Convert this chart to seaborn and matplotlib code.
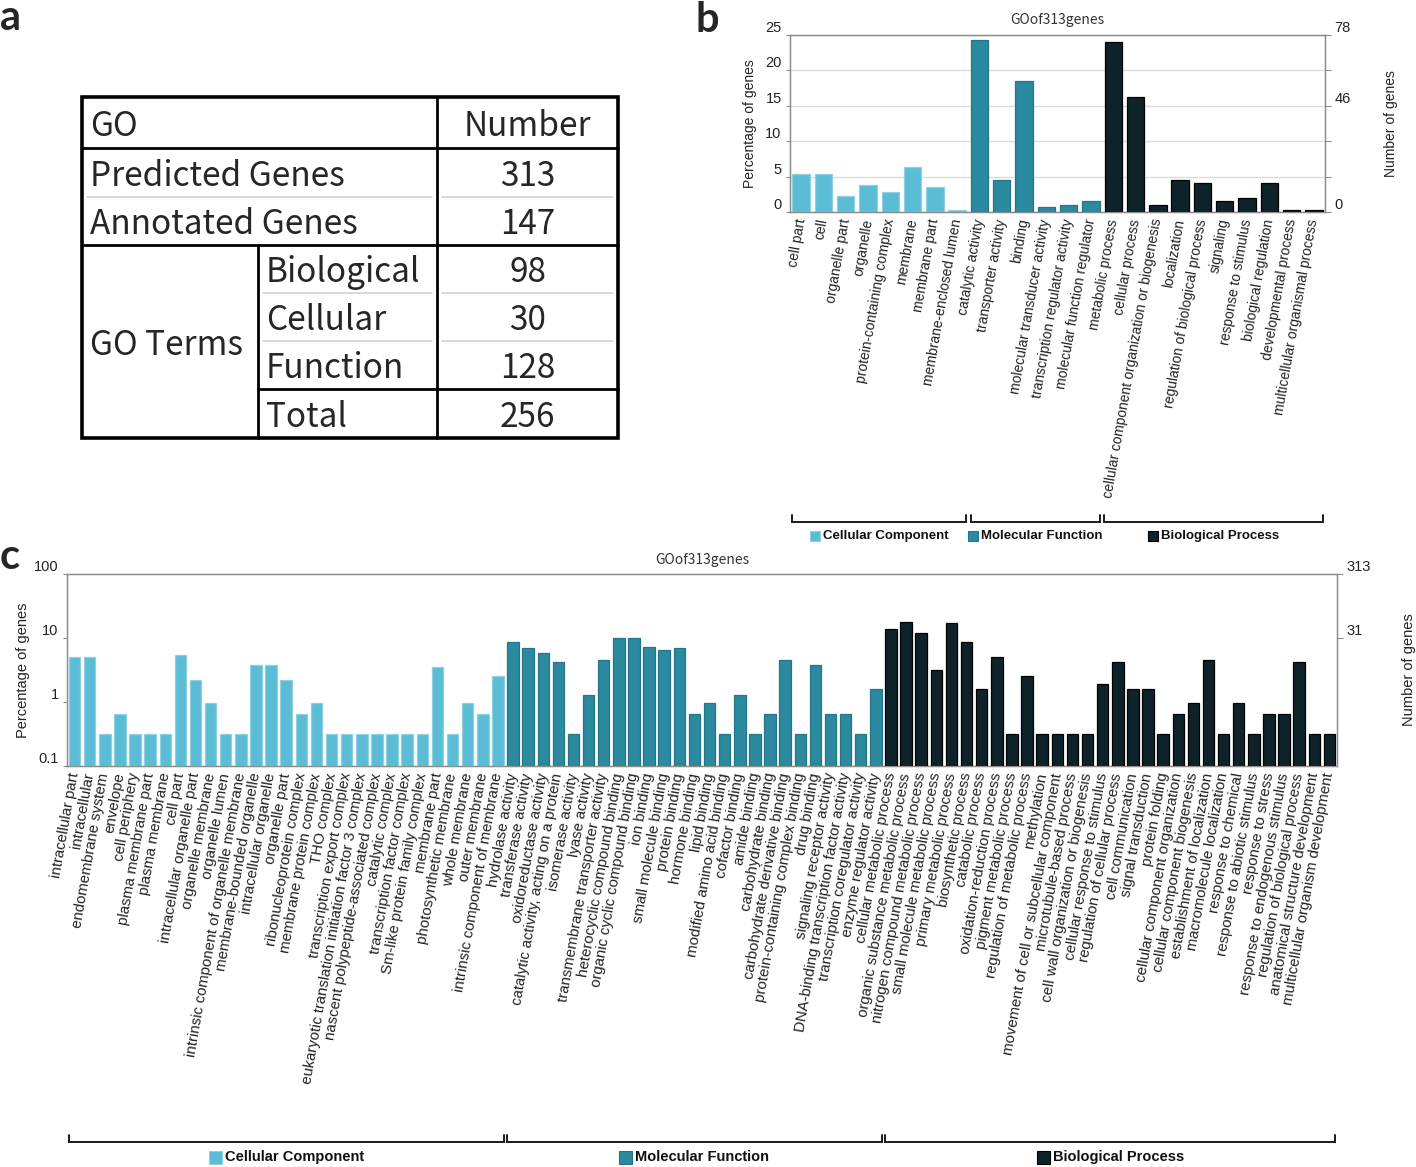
import matplotlib
matplotlib.use("Agg")
import matplotlib.pyplot as plt
from matplotlib.patches import Rectangle
from matplotlib.ticker import FixedLocator, NullLocator
import matplotlib.colors as mcolors
import numpy as np
import pandas as pd
import seaborn as sns

TOTAL_GENES = 313

# ---- panel a: summary table ----
gene_rows = ["Predicted Genes", "Annotated Genes"]
gene_numbers = [313, 147]
term_rows = ["Biological", "Cellular", "Function"]
term_numbers = [98, 30, 128]
term_total = 256

# ---- panel b: GO level 2 (number of genes) ----
b_cc_terms = ["cell part", "cell", "organelle part", "organelle", "protein-containing complex",
              "membrane", "membrane part", "membrane-enclosed lumen"]
b_cc_counts = [17, 17, 7, 12, 9, 20, 11, 1]
b_mf_terms = ["catalytic activity", "transporter activity", "binding", "molecular transducer activity",
              "transcription regulator activity", "molecular function regulator"]
b_mf_counts = [76, 14, 58, 2, 3, 5]
b_bp_terms = ["metabolic process", "cellular process", "cellular component organization or biogenesis",
              "localization", "regulation of biological process", "signaling", "response to stimulus",
              "biological regulation", "developmental process", "multicellular organismal process"]
b_bp_counts = [75, 51, 3, 14, 13, 5, 6, 13, 1, 1]
b_left_ticks = [0, 5, 10, 15, 20, 25]
b_right_labels = ["0", "", "", "46", "", "78"]

# ---- panel c: GO level 3 (number of genes) ----
c_cc_terms = ["intracellular part", "intracellular", "endomembrane system", "envelope", "cell periphery",
              "plasma membrane part", "plasma membrane", "cell part", "intracellular organelle part",
              "organelle membrane", "organelle lumen", "intrinsic component of organelle membrane",
              "membrane-bounded organelle", "intracellular organelle", "organelle part",
              "ribonucleoprotein complex", "membrane protein complex", "THO complex",
              "transcription export complex", "eukaryotic translation initiation factor 3 complex",
              "nascent polypeptide-associated complex", "catalytic complex", "transcription factor complex",
              "Sm-like protein family complex", "membrane part", "photosynthetic membrane",
              "whole membrane", "outer membrane", "intrinsic component of membrane"]
c_cc_counts = [16, 16, 1, 2, 1, 1, 1, 17, 7, 3, 1, 1, 12, 12, 7, 2, 3, 1, 1, 1, 1, 1, 1, 1, 11, 1, 3, 2, 8]
c_mf_terms = ["hydrolase activity", "transferase activity", "oxidoreductase activity",
              "catalytic activity, acting on a protein", "isomerase activity", "lyase activity",
              "transmembrane transporter activity", "heterocyclic compound binding",
              "organic cyclic compound binding", "ion binding", "small molecule binding", "protein binding",
              "hormone binding", "lipid binding", "modified amino acid binding", "cofactor binding",
              "amide binding", "carbohydrate binding", "carbohydrate derivative binding",
              "protein-containing complex binding", "drug binding", "signaling receptor activity",
              "DNA-binding transcription factor activity", "transcription coregulator activity",
              "enzyme regulator activity"]
c_mf_counts = [27, 22, 18, 13, 1, 4, 14, 31, 31, 23, 20, 22, 2, 3, 1, 4, 1, 2, 14, 1, 12, 2, 2, 1, 5]
c_bp_terms = ["cellular metabolic process", "organic substance metabolic process",
              "nitrogen compound metabolic process", "small molecule metabolic process",
              "primary metabolic process", "biosynthetic process", "catabolic process",
              "oxidation-reduction process", "pigment metabolic process", "regulation of metabolic process",
              "methylation", "movement of cell or subcellular component", "microtubule-based process",
              "cell wall organization or biogenesis", "cellular response to stimulus",
              "regulation of cellular process", "cell communication", "signal transduction",
              "protein folding", "cellular component organization", "cellular component biogenesis",
              "establishment of localization", "macromolecule localization", "response to chemical",
              "response to abiotic stimulus", "response to stress", "response to endogenous stimulus",
              "regulation of biological process", "anatomical structure development",
              "multicellular organism development"]
c_bp_counts = [43, 56, 38, 10, 54, 27, 5, 16, 1, 8, 1, 1, 1, 1, 6, 13, 5, 5, 1, 2, 3, 14, 1, 3, 1, 2, 2, 13, 1, 1]
c_left_ticks = [0.1, 1, 10, 100]
c_left_labels = ["0.1", "1", "10", "100"]
c_right_labels = ["31", "313"]

group_names = ["Cellular Component", "Molecular Function", "Biological Process"]
group_colors = {"Cellular Component": "#5bbcd6", "Molecular Function": "#2b8aa0", "Biological Process": "#0e2229"}
group_edges = {"Cellular Component": "#8fd0e2", "Molecular Function": "#237587", "Biological Process": "#000000"}

SPINE = "#8c8c8c"
TXT = "#222222"
W, H = 1416, 1167


def make_df(terms, counts):
    rows = []
    for g, tl, cl in zip(group_names, terms, counts):
        for t, n in zip(tl, cl):
            rows.append({"term": t, "count": n, "group": g})
    df = pd.DataFrame(rows)
    df["percent"] = df["count"] / TOTAL_GENES * 100
    return df


df_b = make_df([b_cc_terms, b_mf_terms, b_bp_terms], [b_cc_counts, b_mf_counts, b_bp_counts])
df_c = make_df([c_cc_terms, c_mf_terms, c_bp_terms], [c_cc_counts, c_mf_counts, c_bp_counts])

sns.set_style("white")
plt.rcParams["font.family"] = ["Liberation Sans", "DejaVu Sans"]

fig = plt.figure(figsize=(W / 100, H / 100), dpi=100)


def px_axes(x0, y0, x1, y1):
    return fig.add_axes([x0 / W, 1 - y1 / H, (x1 - x0) / W, (y1 - y0) / H])


def draw_bars(ax, df, width, fs):
    sns.barplot(data=df, x="term", y="percent", hue="group", order=list(df["term"]),
                hue_order=group_names, palette=group_colors, dodge=False, saturation=1,
                width=width, errorbar=None, legend=False, ax=ax, zorder=3)
    hex_to_group = {mcolors.to_hex(c): g for g, c in group_colors.items()}
    for p in ax.patches:
        g = hex_to_group.get(mcolors.to_hex(p.get_facecolor()))
        if g:
            p.set_edgecolor(group_edges[g])
            p.set_linewidth(0.9)
    n = len(df)
    ax.set_xlim(-0.5, n - 0.5)
    ax.set_xlabel("")
    ax.xaxis.set_major_locator(FixedLocator(range(n)))
    ax.set_xticklabels(df["term"], rotation=80, ha="right", va="center",
                       rotation_mode="anchor", fontsize=fs, color=TXT)
    ax.xaxis.set_minor_locator(FixedLocator(np.arange(n + 1) - 0.5))
    ax.tick_params(axis="x", which="major", length=0, pad=5)
    ax.tick_params(axis="x", which="minor", length=4, color=SPINE, width=0.8, direction="out")
    for s in ax.spines.values():
        s.set_color(SPINE)
        s.set_linewidth(1.0)
        s.set_visible(True)


# ---- panel b ----
axb = px_axes(790, 35, 1325, 212)
draw_bars(axb, df_b, 0.78, 10)
axb.set_ylim(0, 25)
axb.set_yticks(b_left_ticks)
axb.set_yticklabels([str(v) for v in b_left_ticks], fontsize=10.5, color=TXT, va="bottom")
axb.yaxis.grid(True, color="#dcdcdc", lw=1)
axb.set_axisbelow(True)
axb.tick_params(axis="y", which="major", length=3, color=SPINE, pad=3, left=True)
axb.set_ylabel("Percentage of genes", fontsize=10, color=TXT, labelpad=6)
axb.set_title("GOof313genes", fontsize=10, color="#333333", pad=8, family=["Noto Sans CJK SC", "DejaVu Sans"])

axb2 = axb.twinx()
axb2.set_ylim(0, 25 * TOTAL_GENES / 100)
axb2.set_yticks([v * TOTAL_GENES / 100 for v in b_left_ticks])
axb2.set_yticklabels(b_right_labels, fontsize=10.5, color=TXT, va="bottom")
axb2.tick_params(axis="y", length=4, color=SPINE, pad=3)
axb2.set_ylabel("Number of genes", fontsize=10, color=TXT, labelpad=24)
for s in axb2.spines.values():
    s.set_color(SPINE)

# ---- panel c ----
axc = px_axes(67, 574, 1337, 766)
draw_bars(axc, df_c, 0.76, 10.8)
axc.set_yscale("log")
axc.set_ylim(0.1, 100)
axc.yaxis.set_major_locator(FixedLocator(c_left_ticks))
axc.yaxis.set_minor_locator(NullLocator())
axc.set_yticklabels(c_left_labels, fontsize=10.5, color=TXT, va="bottom")
axc.tick_params(axis="y", which="major", length=3, color=SPINE, pad=3, left=True)
axc.set_ylabel("Percentage of genes", fontsize=10.5, color=TXT, labelpad=3)
axc.set_title("GOof313genes", fontsize=10, color="#333333", pad=7, family=["Noto Sans CJK SC", "DejaVu Sans"])

axc2 = axc.twinx()
axc2.set_yscale("log")
axc2.set_ylim(0.1 * TOTAL_GENES / 100, TOTAL_GENES)
axc2.yaxis.set_major_locator(FixedLocator([10 * TOTAL_GENES / 100, TOTAL_GENES]))
axc2.yaxis.set_minor_locator(NullLocator())
axc2.set_yticklabels(c_right_labels, fontsize=10.5, color=TXT, va="bottom")
axc2.tick_params(axis="y", length=4, color=SPINE, pad=3)
axc2.set_ylabel("Number of genes", fontsize=10.5, color=TXT, labelpad=22)
for s in axc2.spines.values():
    s.set_color(SPINE)

# ---- overlay in pixel coordinates (table, brackets, legends, panel letters) ----
over = fig.add_axes([0, 0, 1, 1])
over.set_xlim(0, W)
over.set_ylim(H, 0)
over.axis("off")
renderer = fig.canvas.get_renderer()

# table
tab_font = ["Noto Sans CJK SC", "DejaVu Sans"]
L, R, T, B = 82, 618, 97, 438
col_sub, col_num = 258, 437
row_edges = [97, 148, 197, 245, 293, 341, 389, 438]
over.add_patch(Rectangle((L, T), R - L, B - T, fill=False, ec="black", lw=2.6, zorder=5))
for y, x0 in [(148, L), (245, L), (389, col_sub)]:
    over.plot([x0, R], [y, y], color="black", lw=2.0, zorder=5)
over.plot([col_num, col_num], [T, B], color="black", lw=2.0, zorder=5)
over.plot([col_sub, col_sub], [245, B], color="black", lw=2.0, zorder=5)
for y, x0 in [(197, L), (293, col_sub), (341, col_sub)]:
    over.plot([x0 + 5, col_num - 5], [y, y], color="#d2d2d2", lw=1.2)
    over.plot([col_num + 5, R - 5], [y, y], color="#d2d2d2", lw=1.2)

num_x = (col_num + R) / 2
tab_fs = 24


def row_mid(i):
    return (row_edges[i] + row_edges[i + 1]) / 2 + 4


over.text(L + 8, row_mid(0), "GO", ha="left", va="center", fontsize=tab_fs, family=tab_font)
over.text(num_x, row_mid(0), "Number", ha="center", va="center", fontsize=tab_fs, family=tab_font)
for i, (lab, num) in enumerate(zip(gene_rows, gene_numbers)):
    over.text(L + 8, row_mid(i + 1), lab, ha="left", va="center", fontsize=tab_fs, family=tab_font)
    over.text(num_x, row_mid(i + 1), str(num), ha="center", va="center", fontsize=tab_fs, family=tab_font)
over.text(L + 8, (245 + B) / 2 + 4, "GO Terms", ha="left", va="center", fontsize=tab_fs, family=tab_font)
for i, (lab, num) in enumerate(zip(term_rows + ["Total"], term_numbers + [term_total])):
    over.text(col_sub + 8, row_mid(i + 3), lab, ha="left", va="center", fontsize=tab_fs, family=tab_font)
    over.text(num_x, row_mid(i + 3), str(num), ha="center", va="center", fontsize=tab_fs, family=tab_font)

# panel letters
for x, y, letter in [(0, 18, "a"), (695, 20, "b"), (0, 557, "c")]:
    over.text(x, y, letter, ha="left", va="center", fontsize=30, fontweight="bold",
              family=["Lato", "DejaVu Sans"])


def group_brackets(ax, sizes, y_line, y_text, fs, sq):
    start = 0
    for size, name in zip(sizes, group_names):
        x0 = ax.transData.transform((start - 0.5 + 0.1, 0))[0]
        x1 = ax.transData.transform((start + size - 0.5 - 0.1, 0))[0]
        over.plot([x0, x0, x1, x1], [y_line - 7, y_line, y_line, y_line - 7],
                  color="#1a1a1a", lw=1.4, solid_joinstyle="miter")
        cx = (x0 + x1) / 2
        t = over.text(cx + (sq + 3) / 2, y_text, name, ha="center", va="center", fontsize=fs,
                      fontweight="bold", color="#111111", family=["Liberation Sans", "DejaVu Sans"])
        bb = t.get_window_extent(renderer)
        over.add_patch(Rectangle((bb.x0 - sq - 3, y_text - sq / 2), sq, sq,
                                 fc=group_colors[name], ec=group_edges[name], lw=0.8))
        start += size


group_brackets(axb, [len(b_cc_terms), len(b_mf_terms), len(b_bp_terms)], 522, 536, 9.5, 10)
group_brackets(axc, [len(c_cc_terms), len(c_mf_terms), len(c_bp_terms)], 1142, 1157, 10.5, 13)

fig.savefig("out.png", dpi=100)
